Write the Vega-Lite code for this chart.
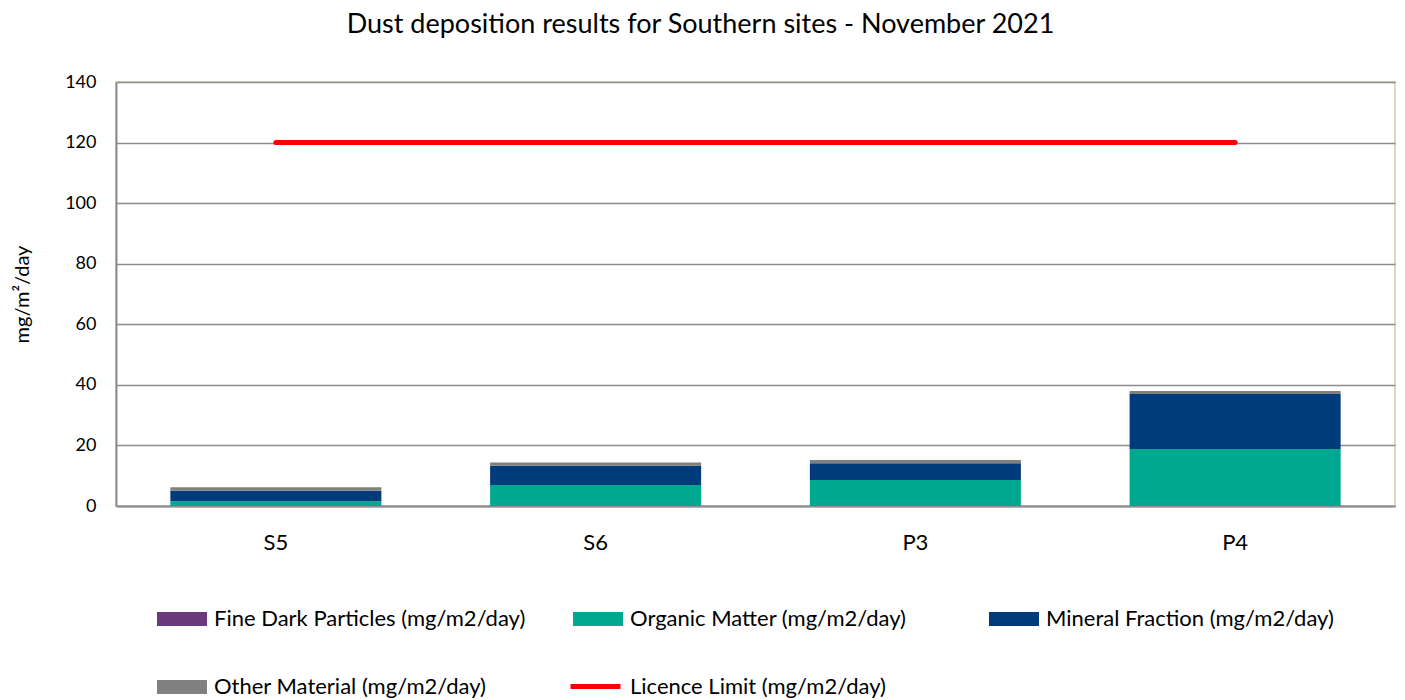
{
  "$schema": "https://vega.github.io/schema/vega-lite/v6.json",
  "width": 1279,
  "height": 424,
  "autosize": {"type": "none"},
  "padding": {"left": 116, "top": 82, "right": 10, "bottom": 194},
  "background": "white",
  "title": {"text": "Dust deposition results for Southern sites - November 2021", "font": "Lato", "fontSize": 27, "fontWeight": "normal", "color": "#000000", "anchor": "middle", "dx": -55, "offset": 34},
  "datasets": {
    "bars": [
      {"site": "S5", "component": "Fine Dark Particles (mg/m2/day)", "ord": 1, "value": 0},
      {"site": "S5", "component": "Organic Matter (mg/m2/day)", "ord": 2, "value": 1.6},
      {"site": "S5", "component": "Mineral Fraction (mg/m2/day)", "ord": 3, "value": 3.4},
      {"site": "S5", "component": "Other Material (mg/m2/day)", "ord": 4, "value": 1.2},
      {"site": "S6", "component": "Fine Dark Particles (mg/m2/day)", "ord": 1, "value": 0},
      {"site": "S6", "component": "Organic Matter (mg/m2/day)", "ord": 2, "value": 6.9},
      {"site": "S6", "component": "Mineral Fraction (mg/m2/day)", "ord": 3, "value": 6.4},
      {"site": "S6", "component": "Other Material (mg/m2/day)", "ord": 4, "value": 1.1},
      {"site": "P3", "component": "Fine Dark Particles (mg/m2/day)", "ord": 1, "value": 0},
      {"site": "P3", "component": "Organic Matter (mg/m2/day)", "ord": 2, "value": 8.6},
      {"site": "P3", "component": "Mineral Fraction (mg/m2/day)", "ord": 3, "value": 5.5},
      {"site": "P3", "component": "Other Material (mg/m2/day)", "ord": 4, "value": 1.1},
      {"site": "P4", "component": "Fine Dark Particles (mg/m2/day)", "ord": 1, "value": 0},
      {"site": "P4", "component": "Organic Matter (mg/m2/day)", "ord": 2, "value": 18.8},
      {"site": "P4", "component": "Mineral Fraction (mg/m2/day)", "ord": 3, "value": 18.2},
      {"site": "P4", "component": "Other Material (mg/m2/day)", "ord": 4, "value": 1.0}
    ],
    "limit": [
      {"site": "S5", "series": "Licence Limit  (mg/m2/day)", "value": 120},
      {"site": "S6", "series": "Licence Limit  (mg/m2/day)", "value": 120},
      {"site": "P3", "series": "Licence Limit  (mg/m2/day)", "value": 120},
      {"site": "P4", "series": "Licence Limit  (mg/m2/day)", "value": 120}
    ]
  },
  "encoding": {
    "x": {
      "field": "site", "type": "nominal", "sort": ["S5", "S6", "P3", "P4"],
      "scale": {"paddingInner": 0.34, "paddingOuter": 0.17},
      "axis": {"title": null, "labelAngle": 0, "labelFontSize": 22, "labelFont": "Lato", "labelColor": "#000000", "labelPadding": 26, "ticks": false, "domainColor": "#8c8c8c", "domainWidth": 2, "grid": false}
    }
  },
  "layer": [
    {
      "data": {"name": "bars"},
      "mark": {"type": "bar"},
      "encoding": {
        "y": {
          "field": "value", "type": "quantitative", "stack": "zero",
          "scale": {"domain": [0, 140]},
          "axis": {"title": "mg/m²/day", "titleFont": "Lato", "titleFontSize": 20, "titleFontWeight": "normal", "titleColor": "#000000", "titlePadding": 32, "values": [0, 20, 40, 60, 80, 100, 120, 140], "labelFontSize": 18, "labelFont": "Lato", "labelColor": "#000000", "labelPadding": 20, "ticks": false, "domainColor": "#8c8c8c", "domainWidth": 2, "gridColor": "#8c8c8c", "gridWidth": 1.5}
        },
        "color": {
          "field": "component", "type": "nominal",
          "scale": {
            "domain": ["Fine Dark Particles (mg/m2/day)", "Organic Matter (mg/m2/day)", "Mineral Fraction (mg/m2/day)", "Other Material (mg/m2/day)"],
            "range": ["#6b3a7a", "#00a88f", "#003b7b", "#808080"]
          },
          "legend": {
            "title": null, "orient": "none", "legendX": 41, "legendY": 512, "direction": "horizontal", "columns": 3, "gridAlign": "all",
            "columnPadding": 47, "rowPadding": 32,
            "symbolType": "M-1,-0.28H1V0.28H-1Z", "symbolSize": 2500, "symbolStrokeWidth": 0,
            "labelFont": "Lato", "labelFontSize": 22, "labelColor": "#000000", "labelOffset": 7, "labelLimit": 500
          }
        },
        "order": {"field": "ord", "type": "quantitative"}
      }
    },
    {
      "data": {"name": "limit"},
      "mark": {"type": "line", "strokeWidth": 5, "strokeCap": "round"},
      "encoding": {
        "y": {"field": "value", "type": "quantitative"},
        "color": {
          "field": "series", "type": "nominal",
          "scale": {"domain": ["Licence Limit  (mg/m2/day)"], "range": ["#ff0000"]},
          "legend": {
            "title": null, "orient": "none", "legendX": 452, "legendY": 577,
            "symbolType": "stroke", "symbolSize": 2500, "symbolStrokeWidth": 5,
            "labelFont": "Lato", "labelFontSize": 22, "labelColor": "#000000", "labelOffset": 7, "labelLimit": 500
          }
        }
      }
    }
  ],
  "resolve": {"scale": {"color": "independent"}},
  "config": {
    "view": {"stroke": "#ddd9c3", "strokeWidth": 2}
  }
}
